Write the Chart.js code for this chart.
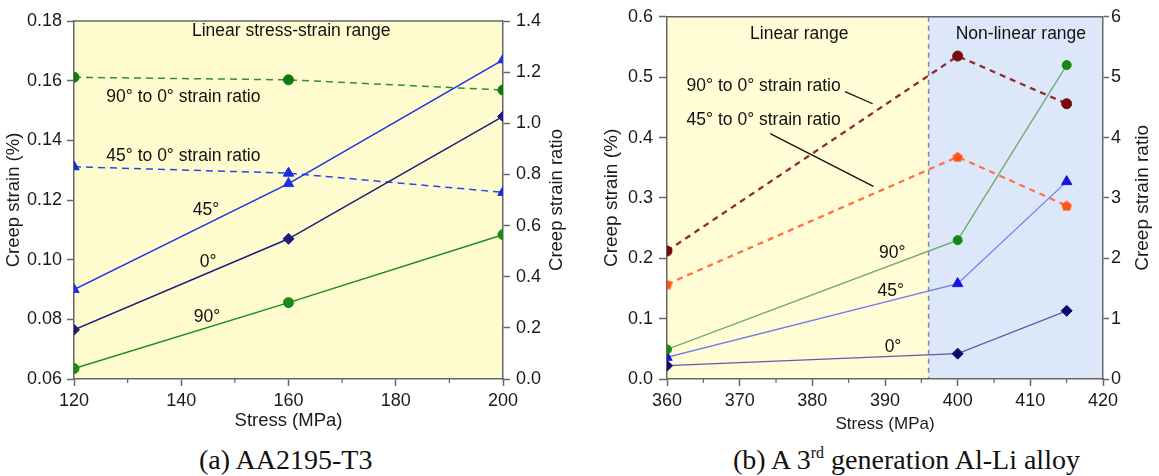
<!DOCTYPE html>
<html>
<head>
<meta charset="utf-8">
<title>Creep strain vs stress</title>
<script src="https://cdn.jsdelivr.net/npm/chart.js@4.4.1/dist/chart.umd.min.js"></script>
<style>
  html, body { margin: 0; padding: 0; background: #fff; }
  body { position: relative; width: 1159px; height: 476px; overflow: hidden; }
  canvas { position: absolute; top: 0; }
  #creepA { left: 0; }
  #creepB { left: 580px; }
  .caption {
    position: absolute; top: 446px; margin: 0; white-space: nowrap; color: #111;
    font: 28px/28px "Liberation Serif", "Times New Roman", serif;
  }
  .caption sup { font-size: 16px; line-height: 0; vertical-align: 11px; }
</style>
</head>
<body>
<canvas id="creepA" width="580" height="440"></canvas>
<canvas id="creepB" width="579" height="440"></canvas>
<div class="caption" style="left:199px">(a) AA2195-T3</div>
<div class="caption" style="left:733px">(b) A 3<sup>rd</sup> generation Al-Li alloy</div>
<script>
// (a) AA2195-T3
const stressA = [120, 160, 200];
const strain45A = [0.090, 0.1255, 0.167];
const strain0A = [0.0765, 0.107, 0.148];
const strain90A = [0.0635, 0.0856, 0.1084];
const ratio90A = [1.18, 1.17, 1.13];
const ratio45A = [0.83, 0.805, 0.73];

// (b) 3rd generation Al-Li alloy
const stressB = [360, 400, 415];
const strain90B = [0.049, 0.23, 0.52];
const strain45B = [0.036, 0.158, 0.327];
const strain0B = [0.022, 0.042, 0.113];
const ratio90B = [2.12, 5.35, 4.56];
const ratio45B = [1.57, 3.68, 2.87];
const linearLimitB = 396;

const FONT = '"Liberation Sans", Arial, Helvetica, sans-serif';
const INK = '#1a1a1a';
const AXIS = '#666';

Chart.defaults.font.family = FONT;
Chart.defaults.color = INK;

const xy = (xs, ys) => xs.map((x, i) => ({ x, y: ys[i] }));

// pentagon marker, Chart.js has no built-in one
function pentagon(size, color) {
  const c = document.createElement('canvas');
  c.width = c.height = size;
  const g = c.getContext('2d');
  const r = size / 2;
  g.beginPath();
  for (let i = 0; i < 5; i++) {
    const a = -Math.PI / 2 + i * 2 * Math.PI / 5;
    g.lineTo(r + r * Math.cos(a), r + 0.6 + r * Math.sin(a));
  }
  g.closePath();
  g.fillStyle = color;
  g.fill();
  return c;
}

// backgrounds, divider, notes, frame top, minor ticks and the right axis title
const panelDecor = {
  id: 'panelDecor',
  beforeDraw(chart, args, opts) {
    const { ctx, chartArea: area, scales: { x } } = chart;
    ctx.save();
    for (const band of opts.bands) {
      const x0 = band.from === undefined ? area.left : x.getPixelForValue(band.from);
      const x1 = band.to === undefined ? area.right : x.getPixelForValue(band.to);
      ctx.fillStyle = band.color;
      ctx.fillRect(x0, area.top, x1 - x0, area.bottom - area.top);
    }
    if (opts.divider !== undefined) {
      const px = x.getPixelForValue(opts.divider);
      ctx.strokeStyle = '#8a8a8a';
      ctx.lineWidth = 1.5;
      ctx.setLineDash([5, 4]);
      ctx.beginPath();
      ctx.moveTo(px, area.top);
      ctx.lineTo(px, area.bottom);
      ctx.stroke();
    }
    ctx.restore();
  },
  afterDatasetsDraw(chart, args, opts) {
    const { ctx, scales: { x, y } } = chart;
    ctx.save();
    ctx.strokeStyle = '#111';
    ctx.lineWidth = 1.3;
    for (const l of opts.leaders || []) {
      ctx.beginPath();
      ctx.moveTo(x.getPixelForValue(l[0]), y.getPixelForValue(l[1]));
      ctx.lineTo(x.getPixelForValue(l[2]), y.getPixelForValue(l[3]));
      ctx.stroke();
    }
    ctx.fillStyle = '#111';
    ctx.font = `${opts.noteSize}px ${FONT}`;
    ctx.textAlign = 'center';
    ctx.textBaseline = 'middle';
    for (const n of opts.notes) {
      ctx.fillText(n.text, x.getPixelForValue(n.x), y.getPixelForValue(n.y));
    }
    ctx.restore();
  },
  afterDraw(chart, args, opts) {
    const { ctx, chartArea: area, scales: { x } } = chart;
    ctx.save();
    ctx.strokeStyle = AXIS;
    ctx.lineWidth = 1.5;
    ctx.beginPath();
    ctx.moveTo(area.left, area.top);
    ctx.lineTo(area.right, area.top);
    ctx.stroke();

    ctx.lineWidth = 1.2;
    for (let v = x.min + opts.minorStep; v < x.max; v += 2 * opts.minorStep) {
      const px = x.getPixelForValue(v);
      ctx.beginPath();
      ctx.moveTo(px, area.bottom);
      ctx.lineTo(px, area.bottom + 4);
      ctx.stroke();
    }

    // reads bottom to top, like the left title
    ctx.translate(area.right + opts.ratioTitleGap, (area.top + area.bottom) / 2);
    ctx.rotate(-Math.PI / 2);
    ctx.fillStyle = INK;
    ctx.font = `${opts.titleSize}px ${FONT}`;
    ctx.textAlign = 'center';
    ctx.textBaseline = 'middle';
    ctx.fillText('Creep strain ratio', 0, 0);
    ctx.restore();
  }
};

function axis(o) {
  return {
    type: 'linear',
    position: o.position,
    min: o.min,
    max: o.max,
    ticks: {
      stepSize: o.step,
      padding: o.pad,
      color: INK,
      font: { size: o.size },
      callback: v => v.toFixed(o.digits)
    },
    grid: { drawOnChartArea: false, tickLength: o.tick, tickColor: AXIS, tickWidth: 1.5 },
    border: { color: AXIS, width: 1.5 },
    title: o.title
      ? { display: true, text: o.title, padding: 0, color: INK, font: { size: o.titleSize } }
      : { display: false },
    afterFit: s => {
      if (o.position === 'bottom') s.height = o.box; else s.width = o.box;
    }
  };
}

function series(label, xs, ys, o) {
  return {
    label,
    data: xy(xs, ys),
    yAxisID: o.axis || 'y',
    borderColor: o.line,
    borderWidth: o.width || 1.5,
    borderDash: o.dash || [],
    pointStyle: o.style,
    pointRadius: o.r,
    pointBackgroundColor: o.mark || o.line,
    pointBorderColor: o.mark || o.line,
    pointBorderWidth: 1,
    fill: false,
    tension: 0
  };
}

const common = {
  responsive: false,
  animation: false,
  events: [],
  plugins: { legend: { display: false }, tooltip: { enabled: false } }
};

new Chart(document.getElementById('creepA'), {
  type: 'line',
  data: {
    datasets: [
      series('45°', stressA, strain45A, { line: '#1f31e4', style: 'triangle', r: 6 }),
      series('0°', stressA, strain0A, { line: '#1d1d7c', style: 'rectRot', r: 5.5 }),
      series('90°', stressA, strain90A, { line: '#1b8a1b', style: 'circle', r: 5 }),
      series('90° to 0° strain ratio', stressA, ratio90A,
        { axis: 'y1', line: '#2e8f2e', mark: '#0e7a0e', dash: [7, 5], style: 'circle', r: 5 }),
      series('45° to 0° strain ratio', stressA, ratio45A,
        { axis: 'y1', line: '#2b45ea', mark: '#1a2ad8', dash: [7, 5], style: 'triangle', r: 6 })
    ]
  },
  options: {
    ...common,
    layout: { padding: { left: 3, right: 0, top: 21, bottom: 8 } },
    scales: {
      x: axis({ position: 'bottom', min: 120, max: 200, step: 20, digits: 0, size: 18, pad: 4,
        tick: 7, box: 53, title: 'Stress (MPa)', titleSize: 18.5 }),
      y: axis({ position: 'left', min: 0.06, max: 0.18, step: 0.02, digits: 2, size: 18, pad: 5,
        tick: 7, box: 71, title: 'Creep strain (%)', titleSize: 18.5 }),
      y1: axis({ position: 'right', min: 0, max: 1.4, step: 0.2, digits: 1, size: 18, pad: 6,
        tick: 7, box: 77 })
    },
    plugins: {
      ...common.plugins,
      panelDecor: {
        bands: [{ color: '#fefccf' }],
        minorStep: 10,
        ratioTitleGap: 54,
        titleSize: 18.5,
        noteSize: 17.5,
        notes: [
          { text: 'Linear stress-strain range', x: 160.5, y: 0.1765 },
          { text: '90° to 0° strain ratio', x: 140.4, y: 0.1545 },
          { text: '45° to 0° strain ratio', x: 140.4, y: 0.1348 },
          { text: '45°', x: 144.6, y: 0.1166 },
          { text: '0°', x: 145, y: 0.0992 },
          { text: '90°', x: 144.8, y: 0.0808 }
        ]
      }
    }
  },
  plugins: [panelDecor]
});

new Chart(document.getElementById('creepB'), {
  type: 'line',
  data: {
    datasets: [
      series('90°', stressB, strain90B, { line: '#6aab6a', mark: '#128a12', width: 1.3, style: 'circle', r: 4.5 }),
      series('45°', stressB, strain45B, { line: '#7b7bea', mark: '#1414dc', width: 1.3, style: 'triangle', r: 6 }),
      series('0°', stressB, strain0B, { line: '#5d5daa', mark: '#0a0a6e', width: 1.3, style: 'rectRot', r: 5.5 }),
      series('90° to 0° strain ratio', stressB, ratio90B,
        { axis: 'y1', line: '#8e2b2b', mark: '#780c0c', width: 2.3, dash: [6, 5], style: 'circle', r: 5 }),
      series('45° to 0° strain ratio', stressB, ratio45B,
        { axis: 'y1', line: '#ff7245', mark: '#ff5512', width: 2.3, dash: [6, 5],
          style: pentagon(11, '#ff5512'), r: 5 })
    ]
  },
  options: {
    ...common,
    layout: { padding: { left: 20, right: 0, top: 14, bottom: 5 } },
    scales: {
      x: axis({ position: 'bottom', min: 360, max: 420, step: 10, digits: 0, size: 18, pad: 4,
        tick: 7, box: 56, title: 'Stress (MPa)', titleSize: 17 }),
      y: axis({ position: 'left', min: 0, max: 0.6, step: 0.1, digits: 1, size: 18, pad: 6,
        tick: 8, box: 67, title: 'Creep strain (%)', titleSize: 19 }),
      y1: axis({ position: 'right', min: 0, max: 6, step: 1, digits: 0, size: 18, pad: 2,
        tick: 6, box: 56 })
    },
    plugins: {
      ...common.plugins,
      panelDecor: {
        bands: [
          { to: linearLimitB, color: '#fffcd6' },
          { from: linearLimitB, color: '#dce7fa' }
        ],
        divider: linearLimitB,
        minorStep: 5,
        ratioTitleGap: 40,
        titleSize: 19,
        noteSize: 17.5,
        notes: [
          { text: 'Linear range', x: 378.2, y: 0.572 },
          { text: 'Non-linear range', x: 408.7, y: 0.572 },
          { text: '90° to 0° strain ratio', x: 373.3, y: 0.485 },
          { text: '45° to 0° strain ratio', x: 373.3, y: 0.428 },
          { text: '90°', x: 391, y: 0.209 },
          { text: '45°', x: 390.8, y: 0.145 },
          { text: '0°', x: 391.1, y: 0.0526 }
        ],
        leaders: [
          [384.5, 0.476, 388.3, 0.456],
          [374.2, 0.4065, 388.4, 0.319]
        ]
      }
    }
  },
  plugins: [panelDecor]
});
</script>
</body>
</html>
